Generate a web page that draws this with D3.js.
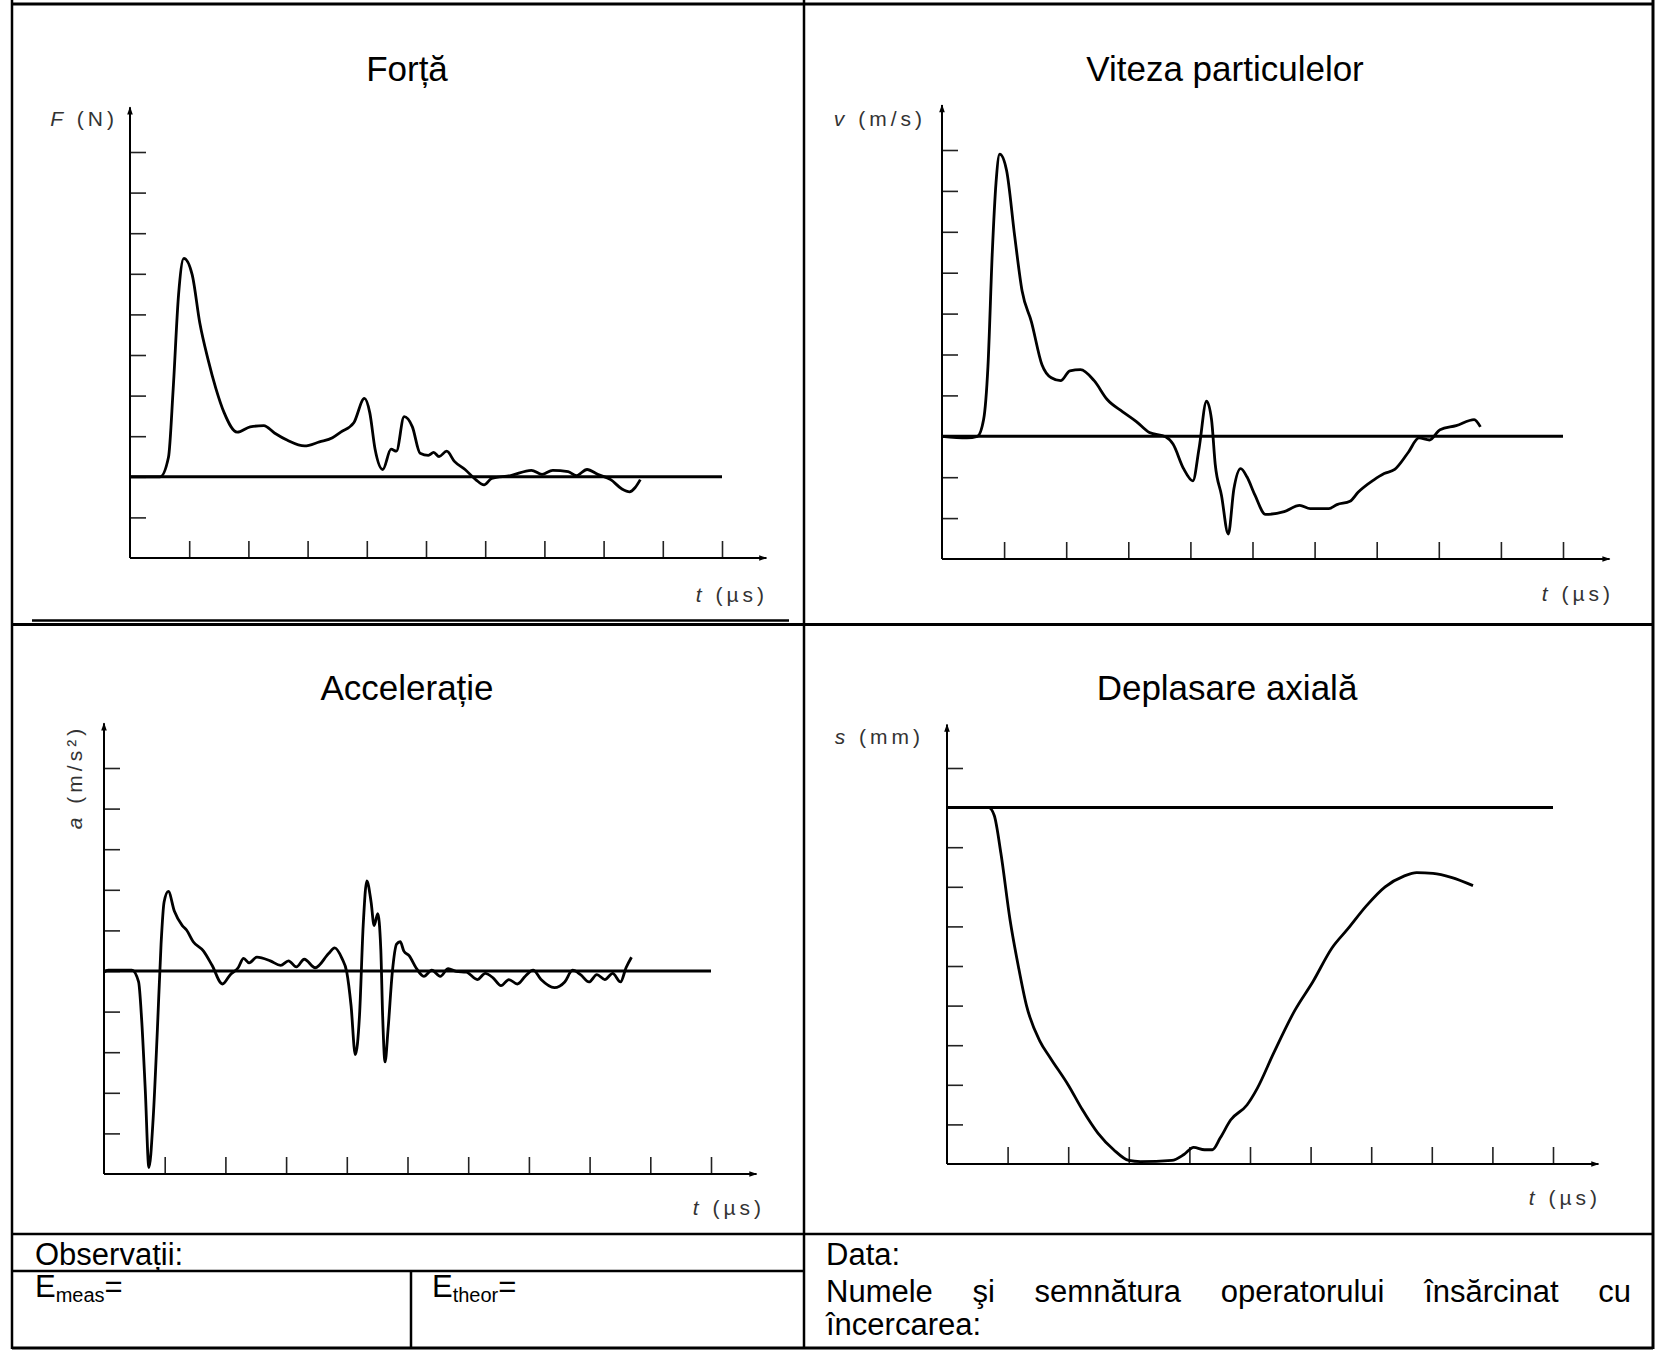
<!DOCTYPE html>
<html>
<head>
<meta charset="utf-8">
<title>Fisa de incercare - diagrame</title>
<script src="https://d3js.org/d3.v7.min.js"></script>
<style>
  body { margin: 0; background: #fff; }
  svg text { font-family: "Liberation Sans", Arial, sans-serif; fill: #000; }
  .title { font-size: 35px; text-anchor: middle; }
  .lbl { font-size: 21px; letter-spacing: 4px; fill: #333; }
  .cell { font-size: 31px; }
</style>
</head>
<body>
<script>
// ticks on the time axis (divisions), same for the four plots
var xTicks = [1, 2, 3, 4, 5, 6, 7, 8, 9, 10]

// Forta - F (N), read in divisions
var forceT = [0, 0.51, 0.65, 0.73, 0.82, 0.91, 1.05, 1.18, 1.32, 1.45, 1.59, 1.81, 2.03, 2.26, 2.44, 2.66, 2.95, 3.2, 3.42, 3.56,
  3.78, 3.96, 4.05, 4.14, 4.27, 4.41, 4.5, 4.63, 4.77, 4.9, 5.04, 5.13, 5.22, 5.35, 5.48, 5.66, 5.84, 5.98, 6.11, 6.43,
  6.78, 6.96, 7.14, 7.4, 7.54, 7.72, 7.9, 8.12, 8.31, 8.44, 8.53, 8.62]
var forceV = [0, 0, 0.48, 2.18, 4.48, 5.38, 4.98, 3.78, 2.88, 2.18, 1.58, 1.1, 1.23, 1.26, 1.08, 0.9, 0.76, 0.86, 0.96, 1.1,
  1.33, 1.93, 1.58, 0.68, 0.18, 0.68, 0.63, 1.48, 1.23, 0.58, 0.53, 0.6, 0.5, 0.63, 0.38, 0.18, -0.07, -0.2, -0.04, 0.03,
  0.16, 0.06, 0.16, 0.13, 0.03, 0.18, 0.06, -0.07, -0.3, -0.37, -0.27, -0.07]
var forceYTicks = [-1, 0, 1, 2, 3, 4, 5, 6, 7, 8]

// Viteza particulelor - v (m/s)
var velT = [0, 0.4, 0.57, 0.67, 0.74, 0.81, 0.87, 0.93, 1.04, 1.17, 1.29, 1.44, 1.61, 1.76, 1.91, 2.06, 2.23, 2.45, 2.66, 2.91,
  3.13, 3.34, 3.6, 3.72, 3.89, 4.04, 4.14, 4.26, 4.34, 4.4, 4.5, 4.61, 4.7, 4.81, 4.91, 5.04, 5.21, 5.51, 5.76, 5.93,
  6.23, 6.36, 6.57, 6.7, 6.95, 7.12, 7.29, 7.51, 7.68, 7.85, 8.02, 8.28, 8.57, 8.67]
var velV = [0, -0.04, 0, 0.41, 1.71, 4.5, 6.2, 6.9, 6.5, 4.9, 3.55, 2.8, 1.75, 1.43, 1.36, 1.6, 1.63, 1.36, 0.9, 0.6,
  0.36, 0.09, -0.01, -0.19, -0.79, -1.09, -0.29, 0.86, 0.41, -0.69, -1.44, -2.39, -1.29, -0.79, -0.99, -1.44, -1.91, -1.84, -1.69, -1.77,
  -1.77, -1.67, -1.59, -1.37, -1.07, -0.91, -0.81, -0.39, -0.04, -0.09, 0.16, 0.26, 0.41, 0.23]
var velYTicks = [-2, -1, 0, 1, 2, 3, 4, 5, 6, 7]

// Acceleratie - a (m/s2)
var accT = [0, 0.07, 0.46, 0.57, 0.62, 0.68, 0.74, 0.81, 0.88, 0.94, 0.99, 1.06, 1.16, 1.29, 1.36, 1.47, 1.64, 1.78, 1.95, 2.08,
  2.21, 2.3, 2.39, 2.52, 2.74, 2.91, 3.04, 3.17, 3.3, 3.48, 3.7, 3.8, 3.92, 4.0, 4.07, 4.14, 4.21, 4.27, 4.33, 4.4,
  4.45, 4.51, 4.56, 4.59, 4.63, 4.68, 4.75, 4.82, 4.88, 4.94, 5.03, 5.14, 5.27, 5.4, 5.54, 5.67, 5.8, 5.97, 6.15, 6.28,
  6.41, 6.54, 6.67, 6.81, 6.94, 7.07, 7.2, 7.42, 7.59, 7.72, 7.85, 7.99, 8.12, 8.25, 8.38, 8.51, 8.6, 8.69]
var accV = [-0.03, 0.02, 0.02, -0.27, -1.19, -2.93, -4.84, -3.63, -1.43, 0.66, 1.7, 1.96, 1.47, 1.12, 1.01, 0.72, 0.49, 0.14, -0.32, -0.09,
  0.08, 0.31, 0.2, 0.34, 0.25, 0.14, 0.25, 0.1, 0.29, 0.08, 0.43, 0.57, 0.31, -0.03, -0.85, -2.06, -1.08, 1.12, 2.22, 1.7,
  1.12, 1.41, 0.54, -1.08, -2.24, -1.43, -0.03, 0.66, 0.72, 0.49, 0.37, 0.08, -0.13, 0.02, -0.13, 0.06, -0.01, -0.03, -0.21, -0.06,
  -0.17, -0.36, -0.21, -0.32, -0.13, 0.02, -0.21, -0.41, -0.27, 0.02, -0.09, -0.27, -0.09, -0.21, -0.06, -0.27, 0.08, 0.34]
var accYTicks = [-4, -3, -2, -1, 0, 1, 2, 3, 4, 5]

// Deplasare axiala - s (mm)
var dispT = [0, 0.69, 0.78, 0.89, 1.04, 1.18, 1.31, 1.53, 1.7, 2.01, 2.23, 2.49, 2.75, 3.0, 3.19, 3.71, 3.91, 4.07, 4.25, 4.38,
  4.51, 4.68, 4.95, 5.12, 5.39, 5.74, 6.04, 6.35, 6.61, 6.92, 7.23, 7.54, 7.75, 8.02, 8.32, 8.68]
var dispV = [0, 0, -0.2, -1.16, -2.83, -4.03, -4.99, -5.89, -6.31, -7.03, -7.62, -8.22, -8.64, -8.91, -8.94, -8.91, -8.76, -8.58, -8.64, -8.64,
  -8.34, -7.89, -7.51, -7.09, -6.2, -5.12, -4.39, -3.55, -3.07, -2.48, -2.0, -1.73, -1.64, -1.66, -1.76, -1.97]
var dispYTicks = [-8, -7, -6, -5, -4, -3, -2, -1, 0, 1]

var W = 1664, H = 1358

var svg = d3.select('body').append('svg')
    .attr('width', W)
    .attr('height', H)

// arrow heads for the axes
svg.append('defs').append('marker')
    .attr('id', 'arr')
    .attr('viewBox', '0 0 10 10')
    .attr('refX', 9).attr('refY', 5)
    .attr('markerUnits', 'userSpaceOnUse')
    .attr('markerWidth', 13).attr('markerHeight', 8)
    .attr('orient', 'auto')
    .append('path')
    .attr('d', 'M0,1.5 L10,5 L0,8.5 Z')
    .attr('fill', '#000')

var charts = [
    { title: 'Forță', tx: 407, ty: 81, left: 130, bottom: 558, xs: 59.2, ys: 40.6, yLow: -2,
      yTicks: forceYTicks, t: forceT, v: forceV,
      yl: { x: 118, y: 126, pre: 'F', post: ' (N)' }, tl: { x: 768, y: 602 } },
    { title: 'Viteza particulelor', tx: 1225, ty: 81, left: 942, bottom: 559, xs: 62.1, ys: 40.9, yLow: -3,
      yTicks: velYTicks, t: velT, v: velV,
      yl: { x: 926, y: 126, pre: 'v', post: ' (m/s)' }, tl: { x: 1614, y: 601 } },
    { title: 'Accelerație', tx: 407, ty: 700, left: 104, bottom: 1174, xs: 60.7, ys: 40.6, yLow: -5,
      yTicks: accYTicks, t: accT, v: accV,
      yl: { x: 82, y: 777, pre: 'a', post: ' (m/s²)', rot: true }, tl: { x: 765, y: 1215 } },
    { title: 'Deplasare axială', tx: 1227, ty: 700, left: 947, bottom: 1164, xs: 60.6, ys: 39.6, yLow: -9,
      yTicks: dispYTicks, t: dispT, v: dispV,
      yl: { x: 924, y: 744, pre: 's', post: ' (mm)' }, tl: { x: 1601, y: 1205 } }
]

charts.forEach(function (c) {
    var x = d3.scaleLinear().domain([0, 10]).range([c.left, c.left + 10 * c.xs])
    var y = d3.scaleLinear().domain([c.yLow, c.yLow + 10]).range([c.bottom, c.bottom - 10 * c.ys])
    var g = svg.append('g')

    g.append('text').attr('class', 'title')
        .attr('x', c.tx).attr('y', c.ty)
        .text(c.title)

    // tick marks, drawn inward
    g.append('g')
        .attr('transform', 'translate(0,' + c.bottom + ')')
        .call(d3.axisBottom(x).tickValues(xTicks).tickSize(-17).tickSizeOuter(0).tickFormat(''))
        .call(function (a) { a.select('.domain').remove() })
        .selectAll('line').attr('stroke', '#222').attr('stroke-width', 1.6)
    g.append('g')
        .attr('transform', 'translate(' + c.left + ',0)')
        .call(d3.axisLeft(y).tickValues(c.yTicks).tickSize(-16).tickSizeOuter(0).tickFormat(''))
        .call(function (a) { a.select('.domain').remove() })
        .selectAll('line').attr('stroke', '#222').attr('stroke-width', 1.6)

    // axes with arrows
    g.append('line')
        .attr('x1', x(0)).attr('y1', y(c.yLow))
        .attr('x2', x(10.75)).attr('y2', y(c.yLow))
        .attr('stroke', '#000').attr('stroke-width', 2)
        .attr('marker-end', 'url(#arr)')
    g.append('line')
        .attr('x1', x(0)).attr('y1', y(c.yLow))
        .attr('x2', x(0)).attr('y2', y(c.yLow + 11.1))
        .attr('stroke', '#000').attr('stroke-width', 2)
        .attr('marker-end', 'url(#arr)')

    // reference (zero) line
    g.append('line')
        .attr('x1', x(0)).attr('y1', y(0))
        .attr('x2', x(10)).attr('y2', y(0))
        .attr('stroke', '#000').attr('stroke-width', 3)

    var line = d3.line()
        .x(function (d) { return x(d[0]) })
        .y(function (d) { return y(d[1]) })
        .curve(d3.curveMonotoneX)
    g.append('path')
        .datum(d3.zip(c.t, c.v))
        .attr('d', line)
        .attr('fill', 'none')
        .attr('stroke', '#000')
        .attr('stroke-width', 2.8)
        .attr('stroke-linejoin', 'round')

    // axis labels
    var yl = g.append('text').attr('class', 'lbl')
    if (c.yl.rot) {
        yl.attr('transform', 'translate(' + c.yl.x + ',' + c.yl.y + ') rotate(-90)')
            .attr('text-anchor', 'middle')
    } else {
        yl.attr('x', c.yl.x).attr('y', c.yl.y).attr('text-anchor', 'end')
    }
    yl.append('tspan').attr('font-style', 'italic').text(c.yl.pre)
    yl.append('tspan').text(c.yl.post)

    var tl = g.append('text').attr('class', 'lbl')
        .attr('x', c.tl.x).attr('y', c.tl.y).attr('text-anchor', 'end')
    tl.append('tspan').attr('font-style', 'italic').text('t')
    tl.append('tspan').text(' (µs)')
})

// table frame
var frame = [
    [12, 4, 1653, 4, 3], [12, 0, 12, 1349, 2.5], [1653, 0, 1653, 1349, 3], [804, 0, 804, 1349, 2.5],
    [32, 620.5, 789, 620.5, 2.5], [12, 624.5, 1653, 624.5, 3],
    [12, 1234, 1653, 1234, 2.5], [12, 1271, 804, 1271, 2.5], [411, 1271, 411, 1349, 2.5],
    [12, 1348, 1653, 1348, 3]
]
svg.append('g').selectAll('line')
    .data(frame)
    .enter().append('line')
    .attr('x1', function (d) { return d[0] })
    .attr('y1', function (d) { return d[1] })
    .attr('x2', function (d) { return d[2] })
    .attr('y2', function (d) { return d[3] })
    .attr('stroke', '#000')
    .attr('stroke-width', function (d) { return d[4] })

svg.append('text').attr('class', 'cell').attr('x', 35).attr('y', 1265).text('Observații:')

var em = svg.append('text').attr('class', 'cell').attr('x', 35).attr('y', 1297)
em.append('tspan').text('E')
em.append('tspan').attr('font-size', 20).attr('dy', 5).text('meas')
em.append('tspan').attr('dy', -5).text('=')

var et = svg.append('text').attr('class', 'cell').attr('x', 432).attr('y', 1297)
et.append('tspan').text('E')
et.append('tspan').attr('font-size', 20).attr('dy', 5).text('theor')
et.append('tspan').attr('dy', -5).text('=')

svg.append('text').attr('class', 'cell').attr('x', 826).attr('y', 1265).text('Data:')

// justified line
var words = ['Numele', 'şi', 'semnătura', 'operatorului', 'însărcinat', 'cu']
var jx0 = 826, jx1 = 1631
var wt = svg.append('g').selectAll('text')
    .data(words)
    .enter().append('text')
    .attr('class', 'cell')
    .attr('y', 1302)
    .text(function (d) { return d })
var lens = []
wt.each(function () { lens.push(this.getComputedTextLength()) })
var gap = (jx1 - jx0 - d3.sum(lens)) / (words.length - 1)
var cx = jx0
wt.attr('x', function (d, i) { var p = cx; cx += lens[i] + gap; return p })

svg.append('text').attr('class', 'cell').attr('x', 826).attr('y', 1335).text('încercarea:')
</script>
</body>
</html>
